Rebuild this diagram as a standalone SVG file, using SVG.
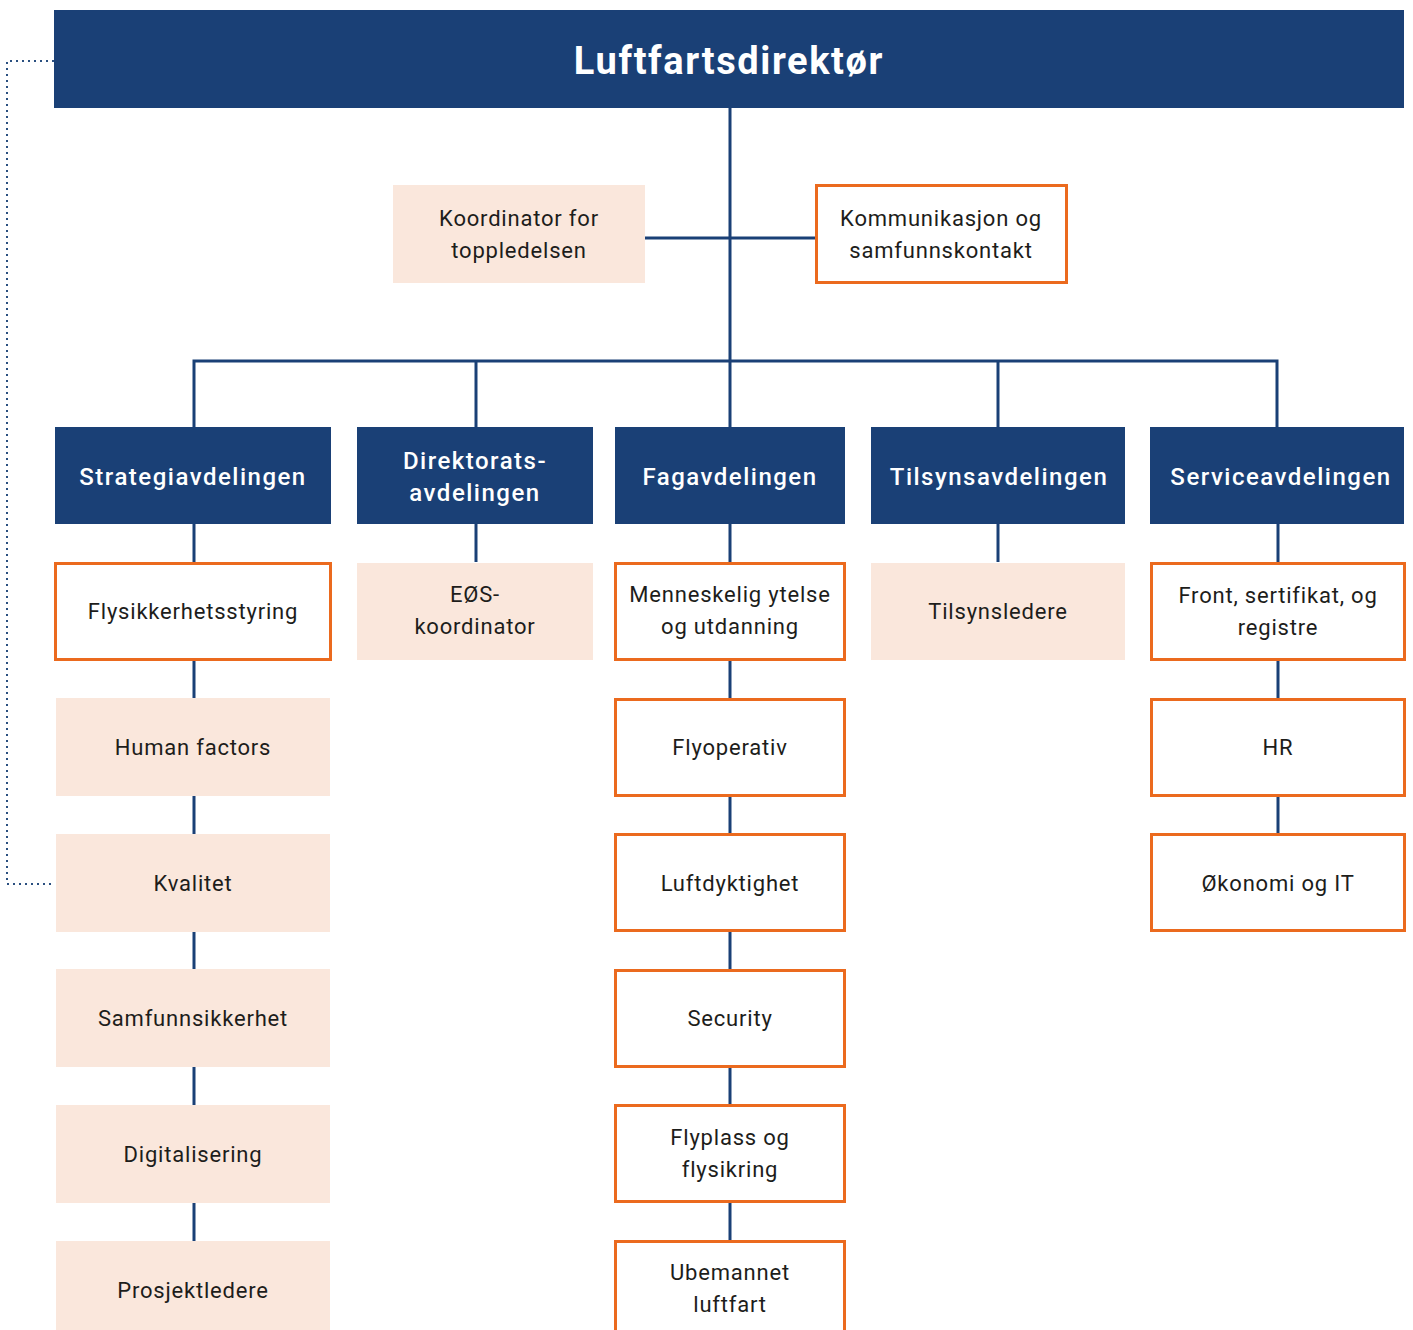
<svg xmlns="http://www.w3.org/2000/svg" width="1413" height="1330" viewBox="0 0 1413 1330">
<style>
.hdr{fill:#1a4076}
.dept{fill:#1a4076}
.peach{fill:#fae7dc}
.orange{fill:#ffffff;stroke:#eb6a1e;stroke-width:3}
.t{font-family:Roboto,"Noto Sans",sans-serif;font-size:22px;fill:#1d1d1b;text-anchor:middle;letter-spacing:0.8px}
.dt{font-family:Roboto,"Noto Sans",sans-serif;font-size:24px;font-weight:500;fill:#ffffff;text-anchor:middle;letter-spacing:1.5px}
.ht{font-family:Roboto,"Noto Sans",sans-serif;font-size:38px;font-weight:700;fill:#ffffff;text-anchor:middle;letter-spacing:1.6px}
.ln{stroke:#1a4076;stroke-width:3;fill:none}
.dot{stroke:#2a4f80;stroke-width:2;fill:none;stroke-dasharray:2 4}
</style>
<g id="connectors">
<path class="dot" d="M54 61 H7 V884 H54"/>
<path class="ln" d="M730 108 V427"/>
<path class="ln" d="M645 238 H815"/>
<path class="ln" d="M194 427 V361 H1277 V427"/>
<path class="ln" d="M476 361 V427"/>
<path class="ln" d="M998 361 V427"/>
<path class="ln" d="M194 524 V1241"/>
<path class="ln" d="M476 524 V562"/>
<path class="ln" d="M730 524 V1241"/>
<path class="ln" d="M998 524 V562"/>
<path class="ln" d="M1278 524 V834"/>
</g>
<g id="n-direktor"><rect class="hdr" x="54" y="10" width="1350" height="98"/><text class="ht" x="729" y="74">Luftfartsdirektør</text></g>
<g id="n-koord"><rect class="peach" x="393" y="185" width="252" height="98"/><text class="t" x="519" y="226">Koordinator for</text><text class="t" x="519" y="258">toppledelsen</text></g>
<g id="n-komm"><rect class="orange" x="816.5" y="185.5" width="250" height="97"/><text class="t" x="941" y="226">Kommunikasjon og</text><text class="t" x="941" y="258">samfunnskontakt</text></g>
<g id="n-strategi"><rect class="dept" x="55" y="427" width="276" height="97"/><text class="dt" x="193" y="485">Strategiavdelingen</text></g>
<g id="n-direktorats"><rect class="dept" x="357" y="427" width="236" height="97"/><text class="dt" x="475" y="469">Direktorats-</text><text class="dt" x="475" y="501">avdelingen</text></g>
<g id="n-fag"><rect class="dept" x="615" y="427" width="230" height="97"/><text class="dt" x="730" y="485">Fagavdelingen</text></g>
<g id="n-tilsyn"><rect class="dept" x="871" y="427" width="254" height="97"/><text class="dt" x="999" y="485">Tilsynsavdelingen</text></g>
<g id="n-service"><rect class="dept" x="1150" y="427" width="254" height="97"/><text class="dt" x="1281" y="485">Serviceavdelingen</text></g>
<g id="n-flysikk"><rect class="orange" x="55.5" y="563.5" width="275" height="96"/><text class="t" x="193" y="619">Flysikkerhetsstyring</text></g>
<g id="n-human"><rect class="peach" x="56" y="698" width="274" height="98"/><text class="t" x="193" y="755">Human factors</text></g>
<g id="n-kvalitet"><rect class="peach" x="56" y="834" width="274" height="98"/><text class="t" x="193" y="891">Kvalitet</text></g>
<g id="n-samf"><rect class="peach" x="56" y="969" width="274" height="98"/><text class="t" x="193" y="1026">Samfunnsikkerhet</text></g>
<g id="n-digi"><rect class="peach" x="56" y="1105" width="274" height="98"/><text class="t" x="193" y="1162">Digitalisering</text></g>
<g id="n-prosj"><rect class="peach" x="56" y="1241" width="274" height="98"/><text class="t" x="193" y="1298">Prosjektledere</text></g>
<g id="n-eos"><rect class="peach" x="357" y="563" width="236" height="97"/><text class="t" x="475" y="602">EØS-</text><text class="t" x="475" y="634">koordinator</text></g>
<g id="n-menn"><rect class="orange" x="615.5" y="563.5" width="229" height="96"/><text class="t" x="730" y="602">Menneskelig ytelse</text><text class="t" x="730" y="634">og utdanning</text></g>
<g id="n-flyop"><rect class="orange" x="615.5" y="699.5" width="229" height="96"/><text class="t" x="730" y="755">Flyoperativ</text></g>
<g id="n-luftd"><rect class="orange" x="615.5" y="834.5" width="229" height="96"/><text class="t" x="730" y="891">Luftdyktighet</text></g>
<g id="n-sec"><rect class="orange" x="615.5" y="970.5" width="229" height="96"/><text class="t" x="730" y="1026">Security</text></g>
<g id="n-flyplass"><rect class="orange" x="615.5" y="1105.5" width="229" height="96"/><text class="t" x="730" y="1145">Flyplass og</text><text class="t" x="730" y="1177">flysikring</text></g>
<g id="n-ubem"><rect class="orange" x="615.5" y="1241.5" width="229" height="96"/><text class="t" x="730" y="1280">Ubemannet</text><text class="t" x="730" y="1312">luftfart</text></g>
<g id="n-tilsle"><rect class="peach" x="871" y="563" width="254" height="97"/><text class="t" x="998" y="619">Tilsynsledere</text></g>
<g id="n-front"><rect class="orange" x="1151.5" y="563.5" width="253" height="96"/><text class="t" x="1278" y="603">Front, sertifikat, og</text><text class="t" x="1278" y="635">registre</text></g>
<g id="n-hr"><rect class="orange" x="1151.5" y="699.5" width="253" height="96"/><text class="t" x="1278" y="755">HR</text></g>
<g id="n-okon"><rect class="orange" x="1151.5" y="834.5" width="253" height="96"/><text class="t" x="1278" y="891">Økonomi og IT</text></g>
</svg>
